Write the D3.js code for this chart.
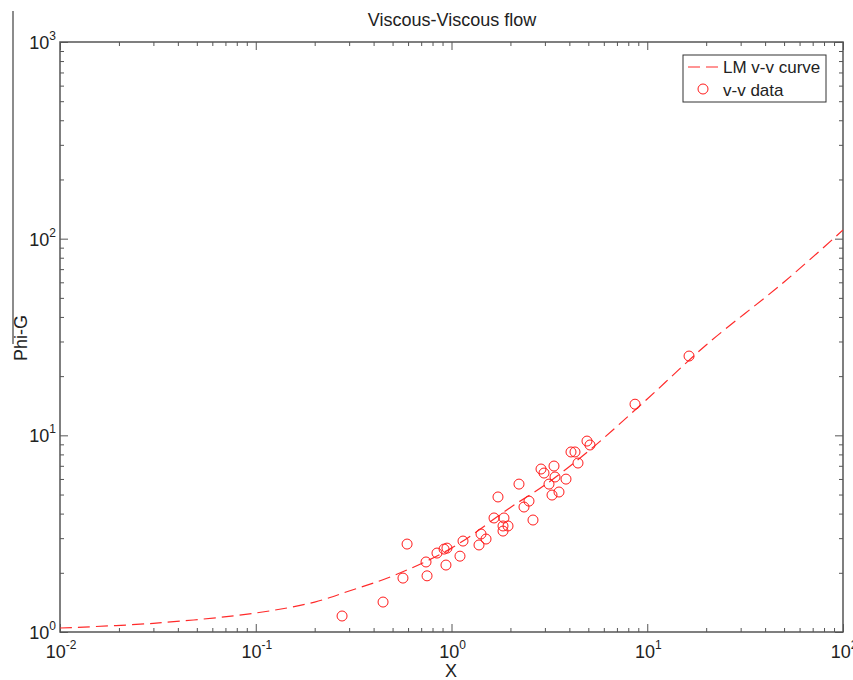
<!DOCTYPE html>
<html lang="en">
<head>
<meta charset="UTF-8">
<title>Viscous-Viscous flow</title>
<script src="https://cdn.jsdelivr.net/npm/d3@7/dist/d3.min.js"></script>
<style>
body { margin: 0; background: #fff; }
text { font-family: "Liberation Sans", Arial, sans-serif; fill: #222; }
.axis path { display: none; }
.axis line { stroke: #555; stroke-width: 1; }
</style>
</head>
<body>
<svg id="main" width="853" height="680"></svg>
<script>
// values
var dataX = [0.276, 0.447, 0.593, 0.565, 0.741, 0.750, 0.843, 0.916, 0.948, 0.937,
             1.105, 1.145, 1.382, 1.415, 1.501, 1.649, 1.728, 1.854, 1.833, 1.944,
             1.833, 2.212, 2.346, 2.488, 2.608, 2.866, 2.969, 3.339, 3.379, 3.845,
             3.148, 3.541, 3.262, 4.078, 4.274, 4.428, 4.922, 5.099, 8.66, 16.35];
var dataY = [1.206, 1.42, 2.80, 1.88, 2.27, 1.93, 2.52, 2.64, 2.67, 2.19,
             2.43, 2.90, 2.77, 3.15, 2.97, 3.80, 4.86, 3.80, 3.46, 3.46,
             3.26, 5.65, 4.32, 4.63, 3.71, 6.74, 6.43, 6.98, 6.14, 5.99,
             5.65, 5.15, 4.97, 8.23, 8.23, 7.23, 9.35, 8.93, 14.4, 25.3];

var curveX = [0.01, 0.03, 0.1, 0.2, 0.3, 0.5, 1, 2, 3, 5, 10, 20, 50, 100];
var curveY = [1.048, 1.107, 1.249, 1.42, 1.616, 1.926, 2.67, 4.3, 5.59, 8.3, 15.3, 28.8, 60.2, 110.6];

var xTickExp = [-2, -1, 0, 1, 2];
var yTickExp = [0, 1, 2, 3];

var svg = d3.select("#main");
var pl = 60, pr = 843, pt = 42, pb = 632;

var x = d3.scaleLog().domain([0.01, 100]).range([pl, pr]);
var y = d3.scaleLog().domain([1, 1000]).range([pb, pt]);

function minors(exps) {
    var out = [];
    for (var i = 0; i < exps.length - 1; i++) {
        for (var k = 2; k <= 9; k++) out.push(k * Math.pow(10, exps[i]));
    }
    return out;
}
var xMajor = xTickExp.map(function(e) { return Math.pow(10, e); });
var yMajor = yTickExp.map(function(e) { return Math.pow(10, e); });

// odd stray line on the far left
svg.append("line")
    .attr("x1", 13).attr("x2", 13).attr("y1", 11).attr("y2", 344)
    .attr("stroke", "#666").attr("stroke-width", 1.5);

// inward ticks on all four sides
function addAxis(axisFn, scale, vals, size, tr) {
    svg.append("g").attr("class", "axis").attr("transform", tr)
        .call(axisFn(scale).tickValues(vals).tickSize(size).tickSizeOuter(0).tickFormat(""));
}
addAxis(d3.axisBottom, x, xMajor, -8, "translate(0," + pb + ")");
addAxis(d3.axisBottom, x, minors(xTickExp), -4, "translate(0," + pb + ")");
addAxis(d3.axisTop, x, xMajor, -8, "translate(0," + pt + ")");
addAxis(d3.axisTop, x, minors(xTickExp), -4, "translate(0," + pt + ")");
addAxis(d3.axisLeft, y, yMajor, -8, "translate(" + pl + ",0)");
addAxis(d3.axisLeft, y, minors(yTickExp), -4, "translate(" + pl + ",0)");
addAxis(d3.axisRight, y, yMajor, -8, "translate(" + pr + ",0)");
addAxis(d3.axisRight, y, minors(yTickExp), -4, "translate(" + pr + ",0)");

svg.append("rect")
    .attr("x", pl).attr("y", pt)
    .attr("width", pr - pl).attr("height", pb - pt)
    .attr("fill", "none").attr("stroke", "#555").attr("stroke-width", 1.5);

// tick labels 10^n
var xl = svg.append("g").selectAll("text").data(xTickExp).enter().append("text")
    .attr("x", function(d) { return x(Math.pow(10, d)) + 1; })
    .attr("y", 658)
    .attr("text-anchor", "middle")
    .attr("font-size", 18)
    .text("10");
xl.append("tspan").attr("dy", -9).attr("font-size", 12).text(function(d) { return d; });

var yl = svg.append("g").selectAll("text").data(yTickExp).enter().append("text")
    .attr("x", 56)
    .attr("y", function(d) { return y(Math.pow(10, d)) + 7; })
    .attr("text-anchor", "end")
    .attr("font-size", 18)
    .text("10");
yl.append("tspan").attr("dy", -9).attr("font-size", 12).text(function(d) { return d; });

// titles
svg.append("text").attr("x", 452).attr("y", 26).attr("text-anchor", "middle")
    .attr("font-size", 18).text("Viscous-Viscous flow");
svg.append("text").attr("x", 451).attr("y", 677).attr("text-anchor", "middle")
    .attr("font-size", 18).text("X");
svg.append("text").attr("transform", "translate(27,338) rotate(-90)")
    .attr("text-anchor", "middle").attr("font-size", 18).text("Phi-G");

// curve
svg.append("clipPath").attr("id", "clip").append("rect")
    .attr("x", pl).attr("y", pt).attr("width", pr - pl).attr("height", pb - pt);

var line = d3.line()
    .x(function(d) { return x(d[0]); })
    .y(function(d) { return y(d[1]); })
    .curve(d3.curveCatmullRom.alpha(0.5));

svg.append("path")
    .datum(d3.zip(curveX, curveY))
    .attr("clip-path", "url(#clip)")
    .attr("d", line)
    .attr("fill", "none")
    .attr("stroke", "#ff2a2a")
    .attr("stroke-width", 1.2)
    .attr("stroke-dasharray", "12,6");

// data circles
svg.append("g").selectAll("circle").data(d3.zip(dataX, dataY)).enter().append("circle")
    .attr("cx", function(d) { return x(d[0]); })
    .attr("cy", function(d) { return y(d[1]); })
    .attr("r", 5)
    .attr("fill", "none")
    .attr("stroke", "#ff1a1a")
    .attr("stroke-width", 1);

// legend
var lg = svg.append("g");
lg.append("rect").attr("x", 683).attr("y", 55).attr("width", 143).attr("height", 47)
    .attr("fill", "#fff").attr("stroke", "#333").attr("stroke-width", 1);
lg.append("line").attr("x1", 688).attr("x2", 720).attr("y1", 67).attr("y2", 67)
    .attr("stroke", "#ff2a2a").attr("stroke-width", 1.2).attr("stroke-dasharray", "12,6");
lg.append("text").attr("x", 723).attr("y", 73).attr("font-size", 17).text("LM v-v curve");
lg.append("circle").attr("cx", 703).attr("cy", 89).attr("r", 5)
    .attr("fill", "none").attr("stroke", "#ff1a1a").attr("stroke-width", 1);
lg.append("text").attr("x", 723).attr("y", 96).attr("font-size", 17).text("v-v data");
</script>
</body>
</html>
